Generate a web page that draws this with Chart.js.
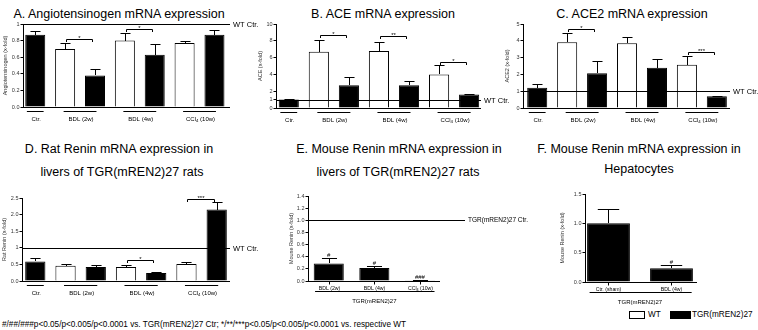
<!DOCTYPE html>
<html lang="en">
<head>
<meta charset="utf-8" />
<title>RAS mRNA expression</title>
<style>
  * { margin: 0; padding: 0; }
  body {
    width: 758px; height: 330px; position: relative; overflow: hidden; background: #fff;
    font-family: "Liberation Sans", Arial, Helvetica, sans-serif; color: #000;
  }
  canvas { position: absolute; }
  .t { position: absolute; width: 300px; text-align: center; font-size: 12.5px; line-height: 14px; white-space: nowrap; }
  .note { position: absolute; left: 2px; top: 320px; font-size: 8.2px; line-height: 10px; white-space: nowrap; }
  .lg { position: absolute; font-size: 8.2px; line-height: 10px; white-space: nowrap; }
  .box { position: absolute; height: 8px; border: 1px solid #000; box-sizing: border-box; }
</style>
</head>
<body>
  <div class="t" style="left:-31px;top:7px;">A. Angiotensinogen mRNA expression</div>
  <div class="t" style="left:233px;top:7px;">B. ACE mRNA expression</div>
  <div class="t" style="left:482px;top:7px;">C. ACE2 mRNA expression</div>
  <div class="t" style="left:-31px;top:142px;">D. Rat Renin mRNA expression in</div>
  <div class="t" style="left:-28px;top:165px;">livers of TGR(mREN2)27 rats</div>
  <div class="t" style="left:249px;top:142px;">E. Mouse Renin mRNA expression in</div>
  <div class="t" style="left:248px;top:165px;">livers of TGR(mREN2)27 rats</div>
  <div class="t" style="left:489px;top:142px;">F. Mouse Renin mRNA expression in</div>
  <div class="t" style="left:489px;top:162px;">Hepatocytes</div>
  <div class="note">#/##/###p&lt;0.05/p&lt;0.005/p&lt;0.0001 vs. TGR(mREN2)27 Ctr; */**/***p&lt;0.05/p&lt;0.005/p&lt;0.0001 vs. respective WT</div>
  <div class="box" style="left:629px;top:311px;width:16px;background:#fff;"></div>
  <div class="lg" style="left:648px;top:310px;">WT</div>
  <div class="box" style="left:670px;top:311px;width:21px;background:#000;"></div>
  <div class="lg" style="left:692px;top:310px;">TGR(mREN2)27</div>

  <canvas id="chartA"></canvas>
  <canvas id="chartB"></canvas>
  <canvas id="chartC"></canvas>
  <canvas id="chartD"></canvas>
  <canvas id="chartE"></canvas>
  <canvas id="chartF"></canvas>

  <script src="https://cdn.jsdelivr.net/npm/chart.js"></script>
  <script>
    const FONT = '"Liberation Sans", Arial, Helvetica, sans-serif';

    // groups for panels A-D ("_" marks a subscript: CCl4)
    const groups = ["Ctr.", "BDL (2w)", "BDL (4w)", "CCl_4 (10w)"];

    // A. Angiotensinogen
    const angWT = [null, 0.70, 0.80, 0.77];
    const angWTErr = [null, 0.77, 0.89, 0.80];
    const angTGR = [0.87, 0.38, 0.63, 0.87];
    const angTGRErr = [0.92, 0.46, 0.76, 0.93];
    const angTicks = [0, 0.2, 0.4, 0.6, 0.8, 1];
    const angTickLabels = ["0.0", "0.2", "0.4", "0.6", "0.8", "1"];

    // B. ACE
    const aceWT = [null, 6.7, 6.8, 4.0];
    const aceWTErr = [null, 8.1, 7.8, 5.1];
    const aceTGR = [1.0, 2.7, 2.7, 1.6];
    const aceTGRErr = [1.1, 3.75, 3.25, 1.67];
    const aceTicks = [0, 1, 2, 4, 6, 8, 10];
    const aceTickLabels = ["0", "1", "2", "4", "6", "8", "10"];

    // C. ACE2
    const ace2WT = [null, 3.92, 3.85, 2.58];
    const ace2WTErr = [null, 4.48, 4.25, 3.12];
    const ace2TGR = [1.2, 2.07, 2.4, 0.7];
    const ace2TGRErr = [1.44, 2.78, 2.92, 0.74];
    const ace2Ticks = [0, 1, 2, 3, 4, 5];
    const ace2TickLabels = ["0", "1", "2", "3", "4", "5"];

    // D. Rat renin
    const ratWT = [null, 0.46, 0.42, 0.51];
    const ratWTErr = [null, 0.51, 0.49, 0.57];
    const ratTGR = [0.59, 0.42, 0.24, 2.15];
    const ratTGRErr = [0.69, 0.49, 0.27, 2.38];
    const ratTicks = [0, 0.5, 1, 1.5, 2, 2.5];
    const ratTickLabels = ["0.0", "0.5", "1", "1.5", "2.0", "2.5"];

    // E. Mouse renin in livers (TGR only)
    const mouseCats = ["BDL (2w)", "BDL (4w)", "CCl_4 (10w)"];
    const mouseRen = [0.29, 0.215, 0.012];
    const mouseRenErr = [0.375, 0.25, 0.015];
    const mouseMarks = ["#", "#", "###"];
    const mouseTicks = [0, 0.2, 0.4, 0.6, 0.8, 1.0, 1.2, 1.4];
    const mouseTickLabels = ["0.0", "0.2", "0.4", "0.6", "0.8", "1.0", "1.2", "1.4"];

    // F. Mouse renin in hepatocytes
    const hepCats = ["Ctr. (sham)", "BDL (4w)"];
    const hepRen = [1.0, 0.235];
    const hepRenErr = [1.245, 0.295];
    const hepMarks = ["", "#"];
    const hepTicks = [0, 0.5, 1, 1.5];
    const hepTickLabels = ["0.0", "0.5", "1.0", "1.5"];

    // slot layout for A-D: Ctr has only the TGR bar, every other group WT + TGR
    const wtSlot = (g) => 2 * g - 1;
    const tgrSlot = (g) => (g === 0 ? 0 : 2 * g);
    const pts = (vals, slot) => vals.map((v, g) => ({ x: slot(g), y: v })).filter((p) => p.y != null);
    const keep = (vals) => vals.filter((v) => v != null);

    function pairDatasets(wt, wtErr, tgr, tgrErr) {
      return [
        { label: "WT", data: pts(wt, wtSlot), err: keep(wtErr), backgroundColor: "#fff" },
        { label: "TGR(mREN2)27", data: pts(tgr, tgrSlot), err: keep(tgrErr), backgroundColor: "#000" },
      ];
    }
    const pairGroups = groups.map((label, g) => ({ label, slots: g === 0 ? [0] : [wtSlot(g), tgrSlot(g)] }));

    // draws text centred on x, with "_" + char rendered as subscript
    function richText(ctx, text, x, y, size) {
      const parts = [];
      let buf = "";
      for (let i = 0; i < text.length; i++) {
        if (text[i] === "_") {
          if (buf) parts.push([buf, false]);
          buf = "";
          parts.push([text[i + 1], true]);
          i++;
        } else buf += text[i];
      }
      if (buf) parts.push([buf, false]);
      const fN = size + "px " + FONT, fS = size * 0.72 + "px " + FONT;
      let w = 0;
      parts.forEach((p) => { ctx.font = p[1] ? fS : fN; w += ctx.measureText(p[0]).width; });
      let cx = x - w / 2;
      ctx.textAlign = "left";
      ctx.textBaseline = "alphabetic";
      parts.forEach((p) => {
        ctx.font = p[1] ? fS : fN;
        ctx.fillText(p[0], cx, p[1] ? y + size * 0.25 : y);
        cx += ctx.measureText(p[0]).width;
      });
    }

    // extra drawing: error bars, baseline, reference line, brackets, group labels
    function panelPlugin(p) {
      return {
        id: "panel",
        afterDatasetsDraw(chart) {
          const { ctx, chartArea: a, scales: { x, y } } = chart;
          const px = (v) => Math.round(x.getPixelForValue(v)) + 0.5;
          const py = (v) => Math.round(y.getPixelForValue(v)) + 0.5;
          const seg = (x1, y1, x2, y2) => { ctx.beginPath(); ctx.moveTo(x1, y1); ctx.lineTo(x2, y2); ctx.stroke(); };
          ctx.save();
          ctx.strokeStyle = "#000";
          ctx.fillStyle = "#000";
          ctx.lineWidth = 1;

          // error bars (upper only)
          chart.data.datasets.forEach((ds, di) => {
            chart.getDatasetMeta(di).data.forEach((bar, i) => {
              const bx = Math.round(bar.x) + 0.5, ye = py(ds.err[i]), cap = bar.width / 4;
              seg(bx, Math.round(bar.y), bx, ye);
              seg(bx - cap, ye, bx + cap, ye);
            });
          });

          // x baseline
          const base = Math.round(a.bottom) + 0.5;
          seg(a.left, base, a.right, base);

          // reference line at 1
          if (p.ref) {
            const yr = py(p.ref.value);
            seg(a.left, yr, a.right + p.ref.ext, yr);
            ctx.font = p.ref.size + "px " + FONT;
            ctx.textAlign = "left";
            ctx.textBaseline = "middle";
            ctx.fillText(p.ref.text, a.right + p.ref.ext + 3, yr);
          }

          // significance brackets
          (p.brackets || []).forEach((b) => {
            const x1 = px(wtSlot(b.g)) + 1, x2 = px(tgrSlot(b.g)) - 3, yb = py(b.y);
            ctx.beginPath();
            ctx.moveTo(x1, yb + 2.5);
            ctx.lineTo(x1, yb);
            ctx.lineTo(x2, yb);
            ctx.lineTo(x2, yb + 2.5);
            ctx.stroke();
            ctx.font = "6px " + FONT;
            ctx.textAlign = "center";
            ctx.textBaseline = "alphabetic";
            ctx.fillText(b.text, (x1 + x2) / 2, yb + 0.5);
          });

          // marks above single bars (#)
          (p.marks || []).forEach((m, i) => {
            if (!m) return;
            const bar = chart.getDatasetMeta(0).data[i];
            ctx.font = "6px " + FONT;
            ctx.textAlign = "center";
            ctx.textBaseline = "alphabetic";
            ctx.fillText(m, bar.x, py(chart.data.datasets[0].err[i]) - 1.5);
          });

          // group labels with underline (A-D)
          (p.groups || []).forEach((gr) => {
            const s0 = gr.slots[0], s1 = gr.slots[gr.slots.length - 1];
            const pad = gr.slots.length === 1 ? 0.28 : 0.05;
            const ul = base + 4;
            seg(x.getPixelForValue(s0 - pad), ul, x.getPixelForValue(s1 + pad), ul);
            richText(ctx, gr.label, (x.getPixelForValue(s0) + x.getPixelForValue(s1)) / 2 + 1, base + 13, 6);
          });

          // per-bar labels + outer strain label (E, F)
          if (p.cats) {
            p.cats.forEach((c, i) => {
              const cx = px(i);
              seg(cx, base, cx, base + 3);
              richText(ctx, c, cx, base + 8, 5.2);
            });
            const ul = base + 10;
            seg(x.getPixelForValue(-0.3), ul, x.getPixelForValue(p.cats.length - 1 + 0.32), ul);
            richText(ctx, p.outer, (x.getPixelForValue(0) + x.getPixelForValue(p.cats.length - 1)) / 2, base + 21, 6);
          }
          ctx.restore();
        },
      };
    }

    function makePanel(id, p) {
      const canvas = document.getElementById(id);
      const padL = 2, padT = 10, padB = 28;
      const cx = p.L - p.yW - padL, cy = p.T - padT;
      canvas.width = p.R + p.padR - cx;
      canvas.height = p.B + padB - cy;
      canvas.style.left = cx + "px";
      canvas.style.top = cy + "px";
      const nSlots = Math.floor(p.xMax) + 1;
      return new Chart(canvas, {
        type: "bar",
        data: { datasets: p.datasets },
        options: {
          responsive: false,
          animation: false,
          devicePixelRatio: 1,
          layout: { padding: { left: padL, top: padT, right: p.padR, bottom: padB } },
          datasets: {
            bar: {
              grouped: false,
              barPercentage: p.barPct,
              categoryPercentage: 1,
              borderColor: "#000",
              borderWidth: 1,
            },
          },
          plugins: { legend: { display: false }, tooltip: { enabled: false } },
          scales: {
            x: {
              type: "linear",
              min: p.xMin,
              max: p.xMax,
              offset: false,
              display: false,
              // one tick per bar slot so the bar width follows the slot spacing
              afterBuildTicks: (s) => { s.ticks = Array.from({ length: nSlots }, (_, i) => ({ value: i })); },
            },
            y: {
              min: 0,
              max: p.ticks[p.ticks.length - 1],
              afterBuildTicks: (s) => { s.ticks = p.ticks.map((v) => ({ value: v })); },
              afterFit: (s) => { s.width = p.yW; },
              grid: { drawOnChartArea: false, tickLength: 2.5, color: "#000" },
              border: { color: "#000", width: 1 },
              ticks: {
                padding: 1,
                color: "#333",
                font: { size: 5.5, family: FONT },
                callback: (v, i) => p.tickLabels[i],
              },
              title: {
                display: true,
                text: p.yTitle,
                color: "#333",
                padding: 0,
                font: { size: 5.5, family: FONT },
              },
            },
          },
        },
        plugins: [panelPlugin(p)],
      });
    }

    makePanel("chartA", {
      L: 23, T: 24, R: 230, B: 107, yW: 21, padR: 35, xMin: -0.41, xMax: 6.52, barPct: 0.67,
      ticks: angTicks, tickLabels: angTickLabels, yTitle: "Angiotensinogen (x-fold)",
      datasets: pairDatasets(angWT, angWTErr, angTGR, angTGRErr),
      ref: { value: 1, text: "WT Ctr.", ext: 0, size: 7.5 },
      brackets: [{ g: 1, y: 0.82, text: "*" }, { g: 2, y: 0.94, text: "*" }],
      groups: pairGroups,
    });

    makePanel("chartB", {
      L: 276, T: 24, R: 481, B: 108, yW: 19, padR: 32, xMin: -0.425, xMax: 6.395, barPct: 0.67,
      ticks: aceTicks, tickLabels: aceTickLabels, yTitle: "ACE (x-fold)",
      datasets: pairDatasets(aceWT, aceWTErr, aceTGR, aceTGRErr),
      ref: { value: 1, text: "WT Ctr.", ext: 0, size: 7.5 },
      brackets: [{ g: 1, y: 8.7, text: "*" }, { g: 2, y: 8.6, text: "**" }, { g: 3, y: 5.5, text: "*" }],
      groups: pairGroups,
    });

    makePanel("chartC", {
      L: 523, T: 24, R: 730, B: 108, yW: 19, padR: 28, xMin: -0.475, xMax: 6.44, barPct: 0.67,
      ticks: ace2Ticks, tickLabels: ace2TickLabels, yTitle: "ACE2 (x-fold)",
      datasets: pairDatasets(ace2WT, ace2WTErr, ace2TGR, ace2TGRErr),
      ref: { value: 1, text: "WT Ctr.", ext: 0, size: 7.5 },
      brackets: [{ g: 1, y: 4.7, text: "*" }, { g: 3, y: 3.36, text: "***" }],
      groups: pairGroups,
    });

    makePanel("chartD", {
      L: 22, T: 198, R: 230, B: 281, yW: 21, padR: 35, xMin: -0.44, xMax: 6.44, barPct: 0.67,
      ticks: ratTicks, tickLabels: ratTickLabels, yTitle: "Rat Renin (x-fold)",
      datasets: pairDatasets(ratWT, ratWTErr, ratTGR, ratTGRErr),
      ref: { value: 1, text: "WT Ctr.", ext: 0, size: 7.5 },
      brackets: [{ g: 2, y: 0.62, text: "*" }, { g: 3, y: 2.48, text: "***" }],
      groups: pairGroups,
    });

    makePanel("chartE", {
      L: 308, T: 196, R: 440, B: 281, yW: 20, padR: 95, xMin: -0.455, xMax: 2.44, barPct: 0.66,
      ticks: mouseTicks, tickLabels: mouseTickLabels, yTitle: "Mouse Renin (x-fold)",
      datasets: [{ label: "TGR(mREN2)27", data: mouseRen.map((v, i) => ({ x: i, y: v })), err: mouseRenErr, backgroundColor: "#000" }],
      ref: { value: 1, text: "TGR(mREN2)27 Ctr.", ext: 25, size: 6.5 },
      marks: mouseMarks,
      cats: mouseCats,
      outer: "TGR(mREN2)27",
    });

    makePanel("chartF", {
      L: 585, T: 194, R: 697, B: 282, yW: 26, padR: 10, xMin: -0.373, xMax: 1.405, barPct: 0.68,
      ticks: hepTicks, tickLabels: hepTickLabels, yTitle: "Mouse Renin (x-fold)",
      datasets: [{ label: "TGR(mREN2)27", data: hepRen.map((v, i) => ({ x: i, y: v })), err: hepRenErr, backgroundColor: "#000" }],
      marks: hepMarks,
      cats: hepCats,
      outer: "TGR(mREN2)27",
    });
  </script>
</body>
</html>
